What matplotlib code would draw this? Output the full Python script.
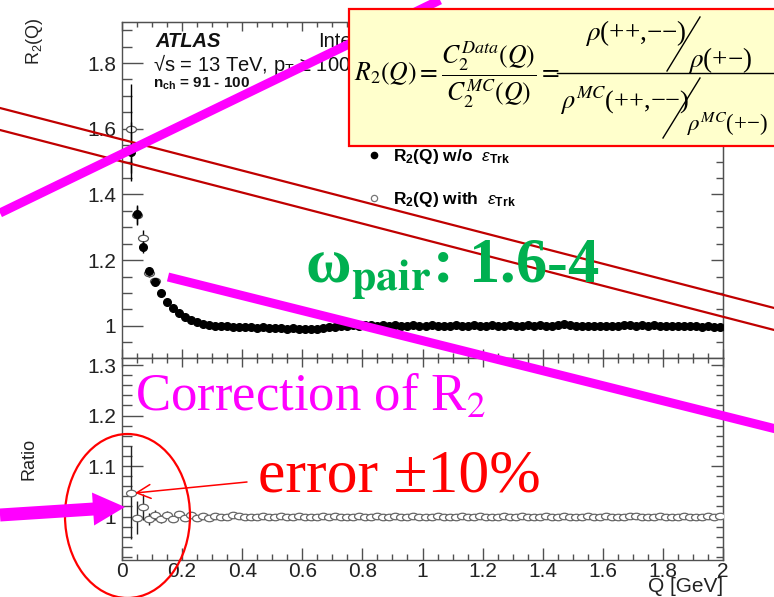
import numpy as np
import matplotlib
matplotlib.use('Agg')
import matplotlib.pyplot as plt
from matplotlib.transforms import Affine2D
from matplotlib.markers import MarkerStyle
from matplotlib.lines import Line2D
from matplotlib.patches import Rectangle, Ellipse, FancyArrow, FancyArrowPatch
from matplotlib.ticker import MultipleLocator, FuncFormatter

plt.rcParams['font.family'] = ['Liberation Sans', 'DejaVu Sans']
plt.rcParams['mathtext.fontset'] = 'custom'
plt.rcParams['mathtext.rm'] = 'Liberation Sans'
plt.rcParams['mathtext.it'] = 'Liberation Sans:italic'
plt.rcParams['mathtext.bf'] = 'Liberation Sans:bold'

# ---------------- data ----------------
q = np.round(np.arange(0.03, 2.0, 0.02), 2)   # Q bin centres [GeV]

r2_without = [1.530, 1.339, 1.240, 1.168, 1.132, 1.100, 1.073, 1.055, 1.040, 1.028,
              1.019, 1.011, 1.005, 1.001, 0.999, 0.998, 0.999, 0.997, 0.996, 0.997,
              0.995, 0.994, 0.995, 0.993, 0.992, 0.993, 0.991, 0.992, 0.990, 0.990,
              0.989, 0.991, 0.993, 0.995, 0.997, 0.999, 1.000, 1.001, 1.000, 1.002,
              1.001, 1.000, 1.002, 0.999, 1.001, 1.000, 0.999, 1.001, 1.000, 0.999,
              1.001, 1.000, 0.999, 1.000, 1.001, 0.999, 1.000, 1.001, 0.999, 1.000,
              1.002, 1.000, 0.999, 1.001, 1.000, 0.999, 1.001, 1.000, 1.002, 1.000,
              0.999, 1.001, 1.007, 1.001, 0.999, 1.000, 0.999, 1.000, 0.998, 0.999,
              1.000, 0.999, 1.001, 1.002, 1.000, 1.001, 0.999, 1.001, 1.000, 0.998,
              0.999, 1.000, 0.999, 0.998, 0.999, 0.997, 0.998, 0.997, 0.997]
r2_without_err_head = [0.090, 0.030, 0.018, 0.010]

# with tracking-efficiency correction: only the first bins are distinguishable
r2_with_head = [1.600, 1.336, 1.266, 1.162, 1.135]
r2_with_err_head = [0.135, 0.030, 0.025, 0.012, 0.010]

ratio = [1.047, 0.998, 1.019, 0.995, 1.003, 0.995, 1.004, 0.996, 1.005, 0.997,
         1.004, 0.998, 1.002, 0.998, 1.001, 0.999, 1.000, 1.004, 1.002, 0.999,
         1.000, 0.999, 1.001, 1.000, 0.999, 1.002, 1.000, 0.999, 1.001, 1.000,
         1.000, 0.999, 1.001, 1.000, 1.002, 1.000, 0.999, 1.000, 1.001, 0.999,
         1.000, 1.001, 0.999, 1.000, 1.002, 1.000, 0.999, 1.001, 1.000, 0.999,
         1.000, 1.001, 1.000, 0.999, 1.000, 1.002, 1.000, 0.999, 1.001, 1.000,
         0.999, 1.000, 1.001, 1.000, 0.999, 1.001, 1.000, 0.999, 1.000, 1.002,
         1.000, 0.999, 1.001, 1.000, 0.999, 1.000, 1.001, 1.000, 0.999, 1.001,
         1.000, 0.999, 1.000, 1.002, 1.001, 1.000, 0.999, 1.000, 1.001, 1.000,
         0.999, 1.000, 1.001, 1.000, 0.999, 1.000, 1.001, 1.000, 1.001]
ratio_err_head = [0.092, 0.033, 0.025, 0.012, 0.010, 0.008, 0.007, 0.006, 0.006,
                  0.005, 0.005, 0.004]

# ---------------- figure ----------------
W, H = 774, 597
fig = plt.figure(figsize=(W / 100, H / 100), dpi=100)
PIX = Affine2D().scale(1 / W, -1 / H).translate(0, 1) + fig.transFigure

L, R, T1, B1, B2 = 122, 723, 22, 358, 560
ax1 = fig.add_axes([L / W, 1 - B1 / H, (R - L) / W, (B1 - T1) / H])
ax2 = fig.add_axes([L / W, 1 - B2 / H, (R - L) / W, (B2 - B1) / H])

GRAY = '#505050'
fmt = FuncFormatter(lambda v, p: '%g' % round(v, 2))


def setup(ax, ylo, yhi, ymaj, ymin_, xlab, xlen):
    ax.set_xlim(0, 2)
    ax.set_ylim(ylo, yhi)
    ax.xaxis.set_major_locator(MultipleLocator(0.2))
    ax.xaxis.set_minor_locator(MultipleLocator(0.05))
    ax.yaxis.set_major_locator(MultipleLocator(ymaj))
    ax.yaxis.set_minor_locator(MultipleLocator(ymin_))
    ax.xaxis.set_major_formatter(fmt)
    ax.yaxis.set_major_formatter(fmt)
    ax.tick_params(which='both', direction='in', color=GRAY, labelcolor='#222222',
                   labelsize=15, width=1)
    ax.tick_params(axis='y', which='major', length=15, pad=4)
    ax.tick_params(axis='y', which='minor', length=7.5)
    ax.tick_params(axis='x', which='major', length=xlen, pad=1.5)
    ax.tick_params(axis='x', which='minor', length=xlen / 2)
    ax.tick_params(axis='x', labelbottom=xlab)
    for s in ax.spines.values():
        s.set_color(GRAY)
        s.set_linewidth(1)
    top = ax.secondary_xaxis('top')
    top.xaxis.set_major_locator(MultipleLocator(0.2))
    top.xaxis.set_minor_locator(MultipleLocator(0.05))
    top.tick_params(which='both', direction='in', color=GRAY, labeltop=False, width=1)
    top.tick_params(which='major', length=6.5)
    top.tick_params(which='minor', length=3.5)
    top.spines['top'].set_color(GRAY)
    right = ax.secondary_yaxis('right')
    right.yaxis.set_major_locator(MultipleLocator(ymaj))
    right.yaxis.set_minor_locator(MultipleLocator(ymin_))
    right.tick_params(which='both', direction='in', color=GRAY, labelright=False, width=1)
    right.tick_params(which='major', length=9)
    right.tick_params(which='minor', length=5)
    right.spines['right'].set_color(GRAY)


setup(ax1, 0.902, 1.925, 0.2, 0.05, False, 6.5)
setup(ax2, 0.914, 1.314, 0.1, 0.02, True, 9)

ell = MarkerStyle('o', transform=Affine2D().scale(1.3, 0.85))

# upper panel
ax1.errorbar(q[:5], r2_with_head, yerr=r2_with_err_head, fmt='none', ecolor='black',
             elinewidth=1, zorder=2)
ax1.plot(q[:5], r2_with_head, ls='none', marker=ell, ms=5.5, mfc='white',
         mec='#555555', mew=0.9, zorder=2)
ax1.errorbar(q[:4], r2_without[:4], yerr=r2_without_err_head, fmt='none',
             ecolor='black', elinewidth=1, zorder=3)
ax1.plot(q, r2_without, ls='none', marker='o', ms=5.5, color='black', zorder=3)

h1 = Line2D([], [], ls='none', marker='o', ms=4.5, color='black')
h2 = Line2D([], [], ls='none', marker='o', ms=4.5, mfc='white', mec='#777777', mew=0.9)
ax1.legend([h1, h2], [r'R$_{\mathbf{2}}$(Q) w/o  $\varepsilon_{\mathbf{Trk}}$',
                      r'R$_{\mathbf{2}}$(Q) with  $\varepsilon_{\mathbf{Trk}}$'],
           loc='upper left', bbox_to_anchor=(367, 147), bbox_transform=PIX,
           frameon=False, handlelength=0.8, handletextpad=0.7, labelspacing=1.4,
           borderpad=0, borderaxespad=0,
           prop={'family': 'Liberation Sans', 'weight': 'bold', 'size': 12.5})

ax1.set_ylabel('R$_2$(Q)', fontsize=13, color='#222222', ha='center', va='center')
ax1.yaxis.set_label_coords(-0.145, 0.943)

ax1.text(155, 47, 'ATLAS', transform=PIX, fontsize=14.5, fontweight='bold',
         fontstyle='italic', color='#111111')
ax1.text(318, 47, 'Internal', transform=PIX, fontsize=14.5, color='#111111')
ax1.text(153, 71, '√s = 13 TeV, p$_{\\rm T}$ ≥ 100 MeV', transform=PIX, fontsize=14.5,
         color='#111111')
ax1.text(153, 88, r'n$_{\mathbf{ch}}$ = 91 - 100', transform=PIX, fontsize=11,
         fontweight='bold', color='#111111')

# lower panel
ax2.errorbar(q[:12], ratio[:12], yerr=ratio_err_head, fmt='none', ecolor='#222222',
             elinewidth=1, zorder=2)
ax2.plot(q, ratio, ls='none', marker=ell, ms=5.5, mfc='white', mec='#666666', mew=0.9,
         zorder=3)
ax2.set_ylabel('Ratio', fontsize=13, color='#222222', ha='center', va='center')
ax2.yaxis.set_label_coords(-0.155, 0.5)
ax2.set_xlabel('Q [GeV]', fontsize=15, color='#222222', ha='right', va='top')
ax2.xaxis.set_label_coords(1.0, -0.085)

# ---------------- slide annotations (pixel coordinates) ----------------
DR = '#C00000'
MAG = '#FF00FF'
for (x0, y0, x1, y1) in [(0, 108, 780, 309.5), (0, 130, 780, 331.5)]:
    fig.add_artist(Line2D([x0, x1], [y0, y1], transform=PIX, color=DR, lw=1.6, zorder=5))
for (x0, y0, x1, y1) in [(0, 213, 440, 0), (168, 277, 780, 430)]:
    fig.add_artist(Line2D([x0, x1], [y0, y1], transform=PIX, color=MAG, lw=6.5,
                          solid_capstyle='butt', zorder=6))

fig.text(305, 283, 'ω$_{\\mathbf{pair}}$: 1.6-4', transform=PIX, fontsize=45,
         family='Liberation Serif', fontweight='bold', color='#00B050',
         math_fontfamily='stix', va='baseline', zorder=7)
fig.text(135, 411, 'Correction of R$_2$', transform=PIX, fontsize=38,
         family='Liberation Serif', color=MAG, math_fontfamily='stix',
         va='baseline', zorder=7)
fig.text(258, 492, 'error ±10%', transform=PIX, fontsize=44.5,
         family='Liberation Serif', color='#FF0000', va='baseline', zorder=7)

fig.add_artist(Ellipse((127.5, 516), 125, 164, transform=PIX, fill=False,
                       ec='#FF0000', lw=1.6, zorder=6))
fig.add_artist(FancyArrowPatch((247, 482), (135, 493), transform=PIX,
                               arrowstyle='->,head_length=10,head_width=5',
                               color='#FF0000', lw=1.1, shrinkA=0, shrinkB=0,
                               mutation_scale=1, zorder=7))
fig.add_artist(FancyArrow(0, 515, 125, -8, width=13, head_width=33, head_length=32,
                          length_includes_head=True, transform=PIX, color=MAG,
                          lw=0, zorder=7))

# formula box
fig.add_artist(Rectangle((349, 9), 440, 137, transform=PIX, fc='#FFFFCC',
                         ec='#FF0000', lw=1.6, zorder=8))
ftxt = dict(transform=PIX, family='Liberation Serif', math_fontfamily='stix',
            color='black', zorder=9, va='center', ha='left')
fig.text(354, 75, r'$R_2\left(Q\right)=\dfrac{C_2^{Data}\left(Q\right)}'
         r'{C_2^{MC}\left(Q\right)}=$', fontsize=18.5, **ftxt)
fig.add_artist(Line2D([557, 790], [73, 73], transform=PIX, color='black', lw=1, zorder=9))
fig.text(585, 33, r'$\rho$(++,−−)', fontsize=19.5, **ftxt)
fig.text(688, 60, r'$\rho$(+−)', fontsize=19.5, **ftxt)
fig.text(560, 101, r'$\rho^{MC}$(++,−−)', fontsize=19, **ftxt)
fig.text(687, 124, r'$\rho^{MC}$(+−)', fontsize=16.5, **ftxt)
fig.add_artist(Line2D([667, 700], [71, 17], transform=PIX, color='black', lw=1, zorder=9))
fig.add_artist(Line2D([663, 700], [138, 78], transform=PIX, color='black', lw=1, zorder=9))

fig.savefig('out.png', dpi=100, facecolor='white')
